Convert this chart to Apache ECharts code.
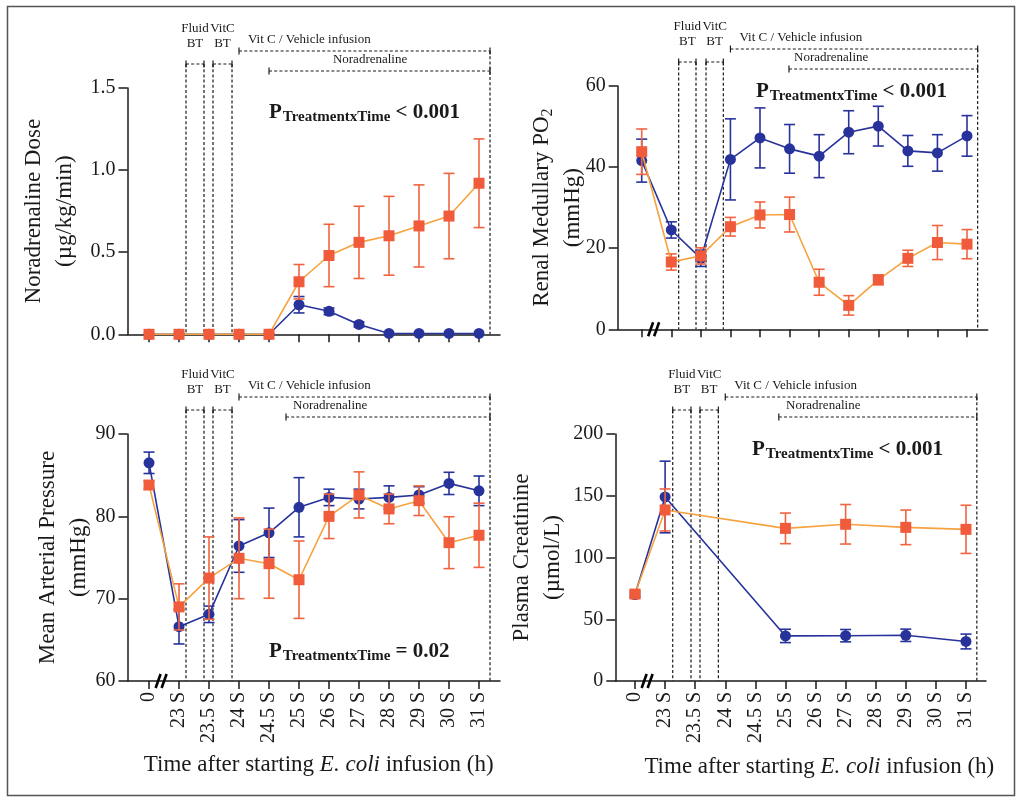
<!DOCTYPE html>
<html><head><meta charset="utf-8">
<script src="https://cdn.jsdelivr.net/npm/echarts@6/dist/echarts.min.js"></script>
<style>html,body{margin:0;padding:0;background:#fff}#c{width:1022px;height:805px}</style>
</head><body><div id="c"></div>
<script>
// ---------- data ----------
const xLabels = ['0', '23 S', '23.5 S', '24 S', '24.5 S', '25 S', '26 S', '27 S', '28 S', '29 S', '30 S', '31 S'];

const norVitC      = [0, 0, 0, 0, 0, 0.18, 0.14, 0.06, 0.005, 0.005, 0.005, 0.005];
const norVitCErr   = [0, 0, 0, 0, 0, 0.05, 0.02, 0.015, 0, 0, 0, 0];
const norVehicle   = [0, 0, 0, 0, 0, 0.32, 0.48, 0.56, 0.60, 0.66, 0.72, 0.92];
const norVehicleErr= [0, 0, 0, 0, 0, 0.105, 0.19, 0.22, 0.24, 0.25, 0.26, 0.27];

const po2VitC      = [41.6, 24.5, 17.5, 41.9, 47.2, 44.5, 42.7, 48.6, 50.1, 44.0, 43.5, 47.7];
const po2VitCErr   = [5.3, 2, 2, 10, 7.4, 6, 5.3, 5.3, 4.9, 3.8, 4.5, 5];
const po2Vehicle   = [43.8, 16.6, 18.1, 25.3, 28.2, 28.3, 11.6, 5.9, 12.2, 17.5, 21.4, 21.0];
const po2VehicleErr= [5.6, 2, 2, 2.3, 3.2, 4.3, 3.2, 2.4, 1.2, 2, 4.2, 3.6];

const mapVitC      = [86.5, 66.6, 68.1, 76.4, 78.0, 81.1, 82.3, 82.1, 82.3, 82.6, 84.0, 83.1];
const mapVitCErr   = [1.3, 2.1, 1, 3.2, 3, 3.6, 1, 1.2, 1.4, 1, 1.35, 1.8];
const mapVehicle   = [83.8, 69.0, 72.5, 74.9, 74.25, 72.3, 80.0, 82.6, 80.9, 81.9, 76.8, 77.7];
const mapVehicleErr= [0.5, 2.8, 5, 4.9, 4.2, 4.7, 2.7, 2.8, 1.8, 1.8, 3.15, 3.9];

const creVitC      = [70, 149, null, null, null, 36.5, null, 36.7, null, 37, null, 32];
const creVitCErr   = [2, 29, null, null, null, 5.4, null, 5, null, 5, null, 6];
const creVehicle   = [70.4, 138.5, null, null, null, 123.6, null, 126.9, null, 124.4, null, 122.8];
const creVehicleErr= [3, 17, null, null, null, 12.4, null, 16, null, 14, null, 19.5];

const yTitles = [
  'Noradrenaline Dose\n(µg/kg/min)',
  '{t|Renal Medullary PO}{s|2}\n{t|(mmHg)}',
  'Mean Arterial Pressure\n(mmHg)',
  'Plasma Creatinine\n(µmol/L)'
];
const pTexts = [' < 0.001', ' < 0.001', ' = 0.02', ' < 0.001'];
const xTitle = ['Time after starting ', 'E. coli', ' infusion (h)'];
const phaseLabels = ['Fluid', 'BT', 'VitC', 'BT', 'Vit C / Vehicle infusion', 'Noradrenaline'];

// ---------- layout / style ----------
const FONT = '"Liberation Serif", "Times New Roman", serif';
const BLUE = '#27339b', OR_M = '#f05b3b', OR_L = '#f6a23e', OR_E = '#f0643f', INK = '#1a1a1a';

const P = [
  {grid:{left:127.5, top:88, width:372.5, height:246.3}, xMin:-0.717, xMax:11.7, yMin:0, yMax:1.5, yInt:0.5, dec:1,
   showX:false, brk:false, lines:[1.233,1.833,2.133,2.767,11.367], vitStart:3, norStart:4.0, norText:6.13, nameGap:47,
   pPos:[269,111]},
  {grid:{left:617.7, top:86, width:370, height:243.3}, xMin:-0.812, xMax:11.7, yMin:0, yMax:60, yInt:20, dec:0,
   showX:false, brk:true, lines:[1.25,1.836,2.175,2.76,11.36], vitStart:3, norStart:4.98, norText:5.15, nameGap:29,
   pPos:[756,90]},
  {grid:{left:127.5, top:434, width:372.5, height:247}, xMin:-0.717, xMax:11.7, yMin:60, yMax:90, yInt:10, dec:0,
   showX:true, brk:true, lines:[1.233,1.833,2.133,2.767,11.367], vitStart:3, norStart:4.567, norText:4.8, nameGap:33,
   pPos:[269,650], xt:[318.7,765]},
  {grid:{left:615.3, top:434, width:370.7, height:247}, xMin:-0.655, xMax:11.665, yMin:0, yMax:200, yInt:50, dec:0,
   showX:true, brk:true, lines:[1.253,1.861,2.16,2.77,11.36], vitStart:3, norStart:4.78, norText:5.02, nameGap:47,
   pPos:[752,448], xt:[819.3,767]}
];

const seriesData = [
  [norVitC, norVitCErr, norVehicle, norVehicleErr],
  [po2VitC, po2VitCErr, po2Vehicle, po2VehicleErr],
  [mapVitC, mapVitCErr, mapVehicle, mapVehicleErr],
  [creVitC, creVitCErr, creVehicle, creVehicleErr]
];

const idx = xLabels.map((_, i) => i);

function pts(vals) { return vals.map((v, i) => v == null ? null : [i, v]).filter(Boolean); }
function errPts(vals, errs) { return vals.map((v, i) => v == null ? null : [i, v, errs[i]]).filter(Boolean); }

function errRender(color) {
  return function (params, api) {
    const x = api.value(0), y = api.value(1), e = api.value(2);
    if (!e) return null;
    const t = api.coord([x, y + e]), b = api.coord([x, y - e]);
    const hw = 5.5, st = {stroke: color, lineWidth: 1.6};
    return {type: 'group', children: [
      {type: 'line', shape: {x1: t[0], y1: t[1], x2: b[0], y2: b[1]}, style: st},
      {type: 'line', shape: {x1: t[0] - hw, y1: t[1], x2: t[0] + hw, y2: t[1]}, style: st},
      {type: 'line', shape: {x1: b[0] - hw, y1: b[1], x2: b[0] + hw, y2: b[1]}, style: st}
    ]};
  };
}

function annotRender(p) {
  return function (params, api) {
    const X = v => api.coord([v, p.yMin])[0];
    const axisY = api.coord([0, p.yMin])[1];
    const topY = api.coord([0, p.yMax])[1];
    const yV = topY - 37, yF = topY - 24, yN = topY - 17;
    const [a, b, c, d, e] = p.lines;
    const dash = {stroke: INK, lineWidth: 1.2, lineDash: [3, 2.2]};
    const solid = {stroke: INK, lineWidth: 1.2};
    const ch = [];
    const vline = (x, y0) => ch.push({type: 'line', shape: {x1: X(x), y1: y0, x2: X(x), y2: axisY}, style: dash});
    const tick = (px, y) => ch.push({type: 'line', shape: {x1: px, y1: y - 3.5, x2: px, y2: y + 3.5}, style: solid});
    const bracket = (x0, x1, y) => {
      ch.push({type: 'line', shape: {x1: X(x0), y1: y, x2: X(x1), y2: y}, style: dash});
      tick(X(x0), y); tick(X(x1), y);
    };
    const txt = (s, x, y, align) => ch.push({type: 'text', style: {text: s, x: x, y: y,
      font: '13px ' + FONT, fill: INK, align: align || 'center', verticalAlign: 'middle'}});
    vline(a, yF); vline(b, yF); vline(c, yF); vline(d, yF); vline(e, yV);
    bracket(a, b, yF); bracket(c, d, yF);
    bracket(p.vitStart, e, yV); bracket(p.norStart, e, yN);
    txt(phaseLabels[0], (X(a) + X(b)) / 2, yF - 35);
    txt(phaseLabels[1], (X(a) + X(b)) / 2, yF - 20);
    txt(phaseLabels[2], (X(c) + X(d)) / 2, yF - 35);
    txt(phaseLabels[3], (X(c) + X(d)) / 2, yF - 20);
    txt(phaseLabels[4], X(p.vitStart) + 9, yV - 11, 'left');
    txt(phaseLabels[5], X(p.norText), yN - 11, 'left');
    if (p.brk) {
      const cx = X(0.42);
      const bs = {stroke: '#000', lineWidth: 2.6};
      ch.push({type: 'line', shape: {x1: cx - 6, y1: axisY + 7, x2: cx - 1, y2: axisY - 7}, style: bs});
      ch.push({type: 'line', shape: {x1: cx, y1: axisY + 7, x2: cx + 5, y2: axisY - 7}, style: bs});
    }
    return {type: 'group', children: ch};
  };
}

const grids = [], xAxes = [], yAxes = [], series = [], graphics = [];
P.forEach((p, k) => {
  grids.push(Object.assign({containLabel: false}, p.grid));
  xAxes.push({
    type: 'value', gridIndex: k, min: p.xMin, max: p.xMax,
    axisLine: {onZero: false, lineStyle: {color: INK, width: 1.5}},
    axisTick: {show: true, length: 8, customValues: idx, lineStyle: {color: INK, width: 1.5}},
    axisLabel: {show: p.showX, customValues: idx, rotate: 90, margin: 11,
      formatter: v => xLabels[Math.round(v)], fontFamily: FONT, fontSize: 20, color: INK},
    splitLine: {show: false}
  });
  yAxes.push({
    type: 'value', gridIndex: k, min: p.yMin, max: p.yMax, interval: p.yInt,
    name: yTitles[k], nameLocation: 'middle', nameRotate: 90, nameGap: p.nameGap, nameMoveOverlap: false,
    nameTextStyle: {fontFamily: FONT, fontSize: 23, color: INK, lineHeight: 31,
      rich: {t: {fontFamily: FONT, fontSize: 23, color: INK, lineHeight: 31},
             s: {fontFamily: FONT, fontSize: 16, color: INK, padding: [12, 0, 0, 0]}}},
    axisLine: {show: true, onZero: false, lineStyle: {color: INK, width: 1.5}},
    axisTick: {show: true, length: 9, lineStyle: {color: INK, width: 1.5}},
    axisLabel: {margin: 12, fontFamily: FONT, fontSize: 20, color: INK,
      formatter: v => v.toFixed(p.dec)},
    splitLine: {show: false}
  });
  const [bv, be, ov, oe] = seriesData[k];
  series.push({type: 'custom', xAxisIndex: k, yAxisIndex: k, renderItem: annotRender(p),
    data: [[0, p.yMin]], silent: true, z: 1});
  series.push({type: 'custom', xAxisIndex: k, yAxisIndex: k, renderItem: errRender(BLUE),
    data: errPts(bv, be), silent: true, z: 2});
  series.push({type: 'line', xAxisIndex: k, yAxisIndex: k, data: pts(bv), symbol: 'circle', symbolSize: 11,
    lineStyle: {color: BLUE, width: 1.6}, itemStyle: {color: BLUE}, z: 3});
  series.push({type: 'custom', xAxisIndex: k, yAxisIndex: k, renderItem: errRender(OR_E),
    data: errPts(ov, oe), silent: true, z: 4});
  series.push({type: 'line', xAxisIndex: k, yAxisIndex: k, data: pts(ov), symbol: 'rect', symbolSize: 11,
    lineStyle: {color: OR_L, width: 1.6}, itemStyle: {color: OR_M}, z: 5});

  graphics.push({type: 'text', left: p.pPos[0], top: p.pPos[1] - 9, style: {
    text: '{p|P}{s|TreatmentxTime}{r|' + pTexts[k] + '}',
    rich: {p: {fontFamily: FONT, fontSize: 21, fontWeight: 'bold', fill: INK, lineHeight: 32},
           s: {fontFamily: FONT, fontSize: 15, fontWeight: 'bold', fill: INK, padding: [10, 0, 0, 1]},
           r: {fontFamily: FONT, fontSize: 21, fontWeight: 'bold', fill: INK, lineHeight: 32}}
  }});
  if (p.xt) {
    graphics.push({type: 'text', x: p.xt[0], y: p.xt[1], style: {
      text: '{n|' + xTitle[0] + '}{i|' + xTitle[1] + '}{n|' + xTitle[2] + '}',
      align: 'center', verticalAlign: 'middle',
      rich: {n: {fontFamily: FONT, fontSize: 23, fill: INK}, i: {fontFamily: FONT, fontSize: 23, fontStyle: 'italic', fill: INK}}
    }});
  }
});
graphics.push({type: 'rect', shape: {x: 7.5, y: 6.5, width: 1007, height: 789},
  style: {fill: 'none', stroke: '#555', lineWidth: 1.5}, silent: true});

const chart = echarts.init(document.getElementById('c'), null, {renderer: 'canvas'});
chart.setOption({
  animation: false, backgroundColor: '#fff',
  grid: grids, xAxis: xAxes, yAxis: yAxes, series: series, graphic: graphics
});
</script></body></html>
